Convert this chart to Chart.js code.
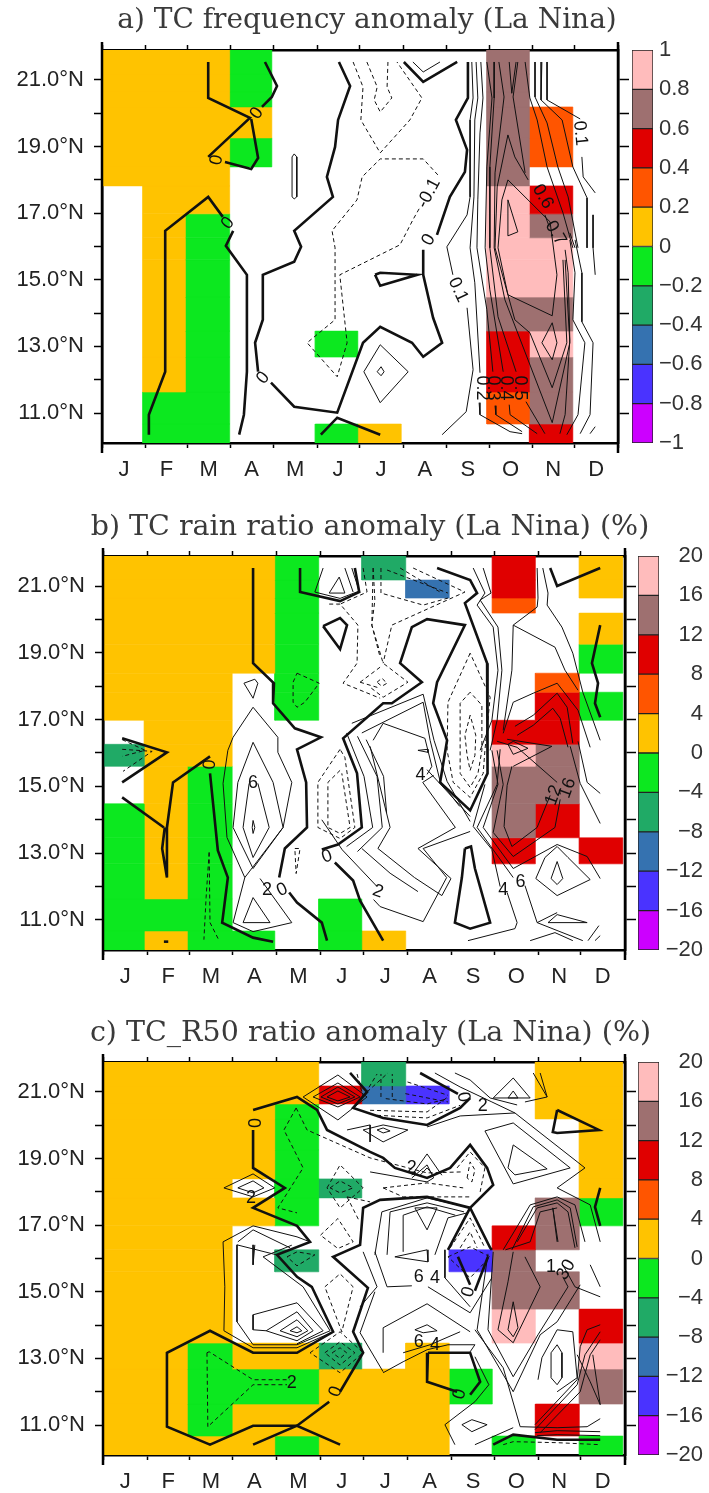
<!DOCTYPE html>
<html>
<head>
<meta charset="utf-8">
<title>TC anomaly</title>
<script src="https://cdn.jsdelivr.net/npm/chart.js@4"></script>
<style>
  html, body { margin: 0; padding: 0; background: #fff; }
  body { position: relative; width: 709px; height: 1493px; overflow: hidden; }
  canvas { position: absolute; }
</style>
</head>
<body>
<canvas id="panelA" width="734" height="490" style="left:0;top:0"></canvas>
<canvas id="panelB" width="740" height="490" style="left:0;top:506px"></canvas>
<canvas id="panelC" width="741" height="490" style="left:0;top:1012px"></canvas>
<canvas id="barA" width="77" height="425" style="left:632px;top:34px"></canvas>
<canvas id="barB" width="65" height="426" style="left:638px;top:540px"></canvas>
<canvas id="barC" width="65" height="425" style="left:638px;top:1046px"></canvas>
<script>
const _ = null;
const monthNames = ['J','F','M','A','M','J','J','A','S','O','N','D'];
const monthTicks = [0,1.02,1.98,2.98,3.98,5,5.98,7,8.02,9,10,10.98,12];
const latTicks = [11,12,13,14,15,16,17,18,19,20,21];
// grid edges of the shaded cells (month units, degrees north)
const cellEdges = [0,0.95,1.94,2.97,3.95,4.96,5.95,6.96,7.96,8.95,9.94,10.95,11.95];
const rowEdges = [10.1,10.67,11.63,12.68,13.46,14.48,15.6,16.26,16.98,17.82,18.39,19.26,20.19,20.64,21.18,21.9];
const bandColors = ['#cc00ff','#4a33ff','#3572b0','#20aa66','#0ce81f','#ffc300','#ff5500','#e00000','#9e7070','#ffbcbc'];
const freqLevels = [-1,-0.8,-0.6,-0.4,-0.2,0,0.2,0.4,0.6,0.8,1];
const ratioLevels = [-20,-16,-12,-8,-4,0,4,8,12,16,20];

// rows run from the top of the plot down to 10N
const freqCells = [
  [.1,.1,.1,-.1,_,_,_,_,_,.7,_,_],
  [.1,.1,.1,-.1,_,_,_,_,_,.7,_,_],
  [.1,.1,.1,-.1,_,_,_,_,_,.7,_,_],
  [.1,.1,.1,.1,_,_,_,_,_,.7,.3,_],
  [.1,.1,.1,-.1,_,_,_,_,_,.7,.3,_],
  [.1,.1,.1,_,_,_,_,_,_,.7,_,_],
  [_,.1,.1,_,_,_,_,_,_,.9,.5,_],
  [_,.1,-.1,_,_,_,_,_,_,.9,.7,_],
  [_,.1,-.1,_,_,_,_,_,_,.9,.9,_],
  [_,.1,-.1,_,_,_,_,_,_,.9,.9,_],
  [_,.1,-.1,_,_,_,_,_,_,.7,.7,_],
  [_,.1,-.1,_,_,-.1,_,_,_,.5,.9,_],
  [_,.1,-.1,_,_,_,_,_,_,.5,.7,_],
  [_,-.1,-.1,_,_,_,_,_,_,.3,.7,_],
  [_,-.1,-.1,_,_,-.1,.1,_,_,_,.5,_]
];
const rainCells = [
  [2,2,2,2,-2,_,-6,_,_,10,_,2],
  [2,2,2,2,-2,_,_,-10,_,10,_,2],
  [2,2,2,2,-2,_,_,_,_,6,_,_],
  [2,2,2,2,-2,_,_,_,_,_,_,2],
  [2,2,2,2,-2,_,_,_,_,_,_,-2],
  [2,2,2,_,-2,_,_,_,_,_,6,_],
  [2,2,2,_,-2,_,_,_,_,_,10,-2],
  [_,2,2,_,_,_,_,_,_,10,10,_],
  [-6,2,2,_,_,_,_,_,_,18,14,_],
  [_,2,-2,_,_,_,_,_,_,14,14,_],
  [-2,2,-2,_,_,_,_,_,_,14,10,_],
  [-2,2,-2,_,_,_,_,_,_,10,_,10],
  [-2,2,-2,_,_,_,_,_,_,_,_,_],
  [-2,-2,-2,_,_,-2,_,_,_,_,_,_],
  [-2,2,-2,-2,_,-2,2,_,_,_,_,_]
];
const r50Cells = [
  [2,2,2,2,2,_,-6,_,_,_,2,2],
  [2,2,2,2,2,10,-10,-14,_,_,2,2],
  [2,2,2,2,-2,_,_,_,_,_,2,2],
  [2,2,2,2,-2,_,_,_,_,_,_,2],
  [2,2,2,2,-2,_,_,_,_,_,_,2],
  [2,2,2,_,-2,-6,_,_,_,_,_,2],
  [2,2,2,2,-2,_,_,_,_,_,14,-2],
  [2,2,2,_,_,_,_,_,_,10,14,_],
  [2,2,2,_,-6,_,_,_,-14,14,_,_],
  [2,2,2,_,_,_,_,_,_,14,14,_],
  [2,2,2,_,_,_,_,_,_,18,_,10],
  [2,2,-2,2,2,-6,_,2,_,_,_,18],
  [2,2,-2,-2,-2,2,2,2,-2,_,_,14],
  [2,2,-2,2,2,2,2,2,_,_,10,_],
  [2,2,2,2,-2,2,2,2,_,-2,_,-2]
];

// contour lines as [month, latitude]
const freqZero = [
  [[2.47,21.54],[2.47,20.46],[3.44,19.86],[2.47,18.69]],
  [[2.86,18.54],[3.47,18.33],[3.63,18.66],[3.47,19.83]],
  [[3.72,20.19],[3.95,20.49],[4.07,20.82],[3.79,21.54]],
  [[1.09,10.35],[1.09,10.95],[1.47,12.24],[1.47,16.47],[2.47,17.49],[2.81,16.89]],
  [[3.05,16.47],[2.88,16.02],[3.37,15.15],[3.37,12.24],[3.30,10.95],[3.19,10.35]],
  [[5.51,21.54],[5.77,20.82],[5.49,19.8],[5.42,18.99],[5.23,18.09],[5.37,17.49],[4.47,16.47],[4.63,15.99],[4.47,15.54],[3.74,15.15],[3.74,13.8],[3.56,13.11],[3.63,12.24]],
  [[3.93,11.91],[4.47,11.19],[5.47,11.01],[6.07,13.11],[6.47,13.59],[7.21,13.11],[7.47,12.69],[7.91,13.11],[7.70,13.86],[7.47,15.15],[7.47,15.9]],
  [[7.79,16.35],[8.09,17.49],[8.44,18.24],[8.49,18.9],[8.23,19.8],[8.51,20.46],[8.51,21.54]],
  [[6.35,15.15],[6.47,14.82],[7.33,15.15],[6.47,15.21],[6.35,15.15]],
  [[5.09,10.35],[5.47,10.86],[6.47,10.35]],
  [[7.02,21.54],[7.47,20.94],[8.26,21.54]]
];
const freqPos = [
  [[4.42,18.69],[4.47,18.78],[4.53,18.69],[4.53,17.49],[4.47,17.43],[4.42,17.49],[4.42,18.69]],
  [[6.09,12.24],[6.47,13.05],[7.12,12.24],[6.47,11.31],[6.09,12.24]],
  [[6.40,12.24],[6.49,12.39],[6.56,12.24],[6.49,12.12],[6.40,12.24]],
  [[7.23,21.54],[7.47,21.24],[7.86,21.54]],
  [[8.60,21.54],[8.63,20.46],[8.56,19.8],[8.56,17.49],[8.49,16.95],[8.02,15.99],[8.16,15.15]],
  [[8.49,14.16],[8.63,12.3],[8.47,11.04],[7.91,10.35]],
  [[8.70,21.54],[8.74,20.46],[8.67,19.8],[8.65,17.49],[8.56,15.96],[8.67,14.91],[8.79,12.21]],
  [[8.77,11.31],[8.79,10.95],[9.49,10.44],[9.77,10.38]],
  [[8.81,21.54],[8.86,20.46],[8.79,19.41],[8.74,17.4],[8.72,15.96],[8.95,14.1],[9.09,12.24]],
  [[9.14,11.22],[9.16,10.95],[9.77,10.44]],
  [[8.95,21.54],[9.07,20.46],[8.95,18.39],[8.91,15.96],[9.02,14.7],[9.33,12.24]],
  [[9.47,11.25],[9.49,10.95],[10.12,10.38]],
  [[9.12,21.54],[9.12,20.46],[9.02,18.39],[9.02,15.96],[9.21,13.89],[9.63,12.24]],
  [[9.86,11.34],[10.30,10.38]],
  [[9.23,21.54],[9.35,20.49],[9.14,18.21],[9.12,15.96],[9.37,14.4],[10.47,10.71],[10.88,13.11],[10.77,15.6]],
  [[9.47,21.54],[9.53,20.6],[9.63,21.54]],
  [[9.44,19.35],[9.19,17.79],[9.14,15.96],[9.60,13.8],[9.95,13.41],[10.47,11.76],[10.81,13.11],[10.72,15.6]],
  [[9.44,19.35],[9.60,18.69],[9.91,18]],
  [[10.30,16.95],[10.4,16.6]],
  [[10.88,16.41],[11,15.96]],
  [[9.44,18],[9.30,17.4],[9.21,15.96],[9.44,14.55],[10.47,13.92],[10.58,15.15],[10.42,16.74],[9.44,18]],
  [[9.44,17.4],[9.67,16.44],[9.44,16.32],[9.44,17.4]],
  [[9.67,21.54],[9.56,20.49],[9.84,18.21]],
  [[9.84,21.54],[9.95,20.46],[10.12,19.8],[10.35,18.39],[10.72,17.01],[10.95,15.96]],
  [[10.07,21.54],[10.07,20.49],[10.35,19.71],[10.60,18.39],[10.84,17.49],[11.07,15.96]],
  [[10.23,21.54],[10.21,20.4],[10.70,19.8],[10.95,18.39],[11.28,17.46],[11.28,15.96]],
  [[10.35,21.54],[10.35,20.4],[11.12,19.83]],
  [[11.16,18.69],[11.19,18.09],[11.47,17.61]],
  [[11.42,16.95],[11.42,15.96],[11.47,15.15]],
  [[11,16.2],[11.16,15.21],[11.16,13.74],[11.42,13.11],[11.35,10.95],[11.12,10.38]],
  [[10.88,16.2],[11,15.21],[10.95,13.8],[11.23,13.11],[11.07,10.95],[10.81,10.35]],
  [[10.77,15.9],[10.84,15.21],[10.88,13.2],[10.77,10.95],[10.65,10.38]],
  [[11.47,10.59],[11.35,10.38]],
  [[10.23,13.11],[10.47,13.71],[10.58,13.11],[10.47,12.6],[10.23,13.11]]
];
const freqNeg = [
  [[5.84,21.54],[6.07,20.79],[6.02,19.8],[6.47,18.81],[7.16,19.8],[7.44,20.46],[6.86,21.54]],
  [[7.81,18.15],[7.47,18.63],[6.47,18.63],[6.05,18.09],[5.93,17.4],[5.35,16.47],[5.42,15.96],[5.42,13.8],[4.77,13.11],[5.47,12.09],[5.70,13.11],[5.53,15.15],[6.93,16.05],[7.23,16.8],[7.40,17.19]],
  [[6.16,21.54],[6.40,20.79],[6.33,20.4],[6.47,20.04],[6.74,20.46],[6.63,20.79],[6.65,21.54]]
];
const freqLabels = [
  {x:3.6,y:20.0,text:'0',rot:-55},{x:2.67,y:18.6,text:'0',rot:-80},{x:2.93,y:16.7,text:'0',rot:-50},
  {x:3.75,y:12.05,text:'0',rot:-50},{x:7.6,y:16.2,text:'0',rot:-60},{x:7.6,y:17.6,text:'-0.1',rot:-62},
  {x:11.12,y:19.4,text:'0.1',rot:85},{x:8.28,y:14.7,text:'0.1',rot:65},{x:10.25,y:17.5,text:'0.6',rot:60},
  {x:10.55,y:16.4,text:'0.7',rot:60},{x:8.83,y:11.75,text:'0.2',rot:90},{x:9.1,y:11.75,text:'0.3',rot:90},
  {x:9.4,y:11.75,text:'0.4',rot:90},{x:9.72,y:11.75,text:'0.5',rot:90}
];

const rainZero = [
  [[3.45,21.54],[3.45,18.69],[3.93,18.09],[3.91,17.49],[4.41,16.74],[5.01,16.47],[4.46,16.11],[4.67,15.12],[4.69,13.77],[4.18,13.14],[4.05,12.27]],
  [[4.28,11.82],[4.46,11.52],[5.03,10.92],[5.15,10.38]],
  [[4.53,21.54],[4.53,20.82],[5.45,20.55],[5.89,20.82],[5.79,21.54]],
  [[5.06,19.8],[5.45,20.04],[5.61,19.83],[5.45,19.11],[5.06,19.8]],
  [[7.68,21.54],[8.44,21.18],[8.60,20.79],[8.32,20.49],[8.83,18.69],[8.83,16.38],[8.85,15.39],[8.44,14.28],[7.75,15.12],[7.91,16.38],[7.59,17.49],[7.68,18.12],[8.32,19.83],[7.45,20.01],[7.10,19.77],[6.83,18.69],[7.33,18.12],[6.64,17.49],[6.44,17.49],[5.52,16.44],[5.84,15.39],[5.95,13.77],[5.40,13.26],[5.03,13.11]],
  [[5.33,12.72],[5.75,12.18],[5.91,11.58],[6.44,10.38]],
  [[8.32,13.14],[8.46,13.2],[8.55,12.54],[8.9,10.92],[8.44,10.74],[8.09,10.92],[8.25,12.27],[8.32,13.14]],
  [[10.28,21.54],[10.44,21],[11.43,21.54]],
  [[11.43,19.83],[11.24,18.69],[11.38,18.09],[11.31,17.49],[11.43,17.07]],
  [[0.44,16.44],[1.47,16.02],[0.44,15.12]],
  [[0.44,14.67],[1.40,13.77]],
  [[2.46,15.9],[1.61,15.12],[1.47,13.77],[1.47,12.27],[1.36,13.14],[1.42,13.77]],
  [[2.46,15.39],[2.64,13.08],[2.87,12.27],[2.74,10.92],[3.45,10.47],[3.91,10.35]],
  [[1.4,10.35],[1.5,10.35]]
];
const rainPos = [
  [[2.87,16.08],[2.76,15.09],[2.85,13.47],[3.26,12.27],[4.14,13.77],[4.34,15.12],[4.02,16.02],[4.02,16.47],[3.45,17.37],[2.99,16.47],[2.87,16.08]],
  [[3.45,16.32],[3.10,15.12],[2.99,13.77],[3.45,12.54],[4.14,13.77],[3.91,15.12],[3.45,16.32]],
  [[3.36,15.09],[3.22,13.77],[3.45,12.87],[3.82,13.77],[3.56,15.09]],
  [[3.43,13.77],[3.45,13.98],[3.49,13.77],[3.45,13.59],[3.43,13.77]],
  [[3.45,11.67],[3.22,10.92],[3.84,10.92],[3.45,11.67]],
  [[3.26,12.27],[2.99,10.92],[3.45,10.65],[4.34,10.92],[3.61,12.24]],
  [[3.24,18.09],[3.49,18.21],[3.56,18.09],[3.45,17.64],[3.24,18.09]],
  [[4.87,20.82],[5.06,21.54]],
  [[5.56,21.54],[5.75,20.82]],
  [[4.87,20.82],[5.45,20.63],[5.89,20.85],[5.72,21.54]],
  [[5.2,20.79],[5.43,21.27],[5.56,20.79],[5.2,20.79]],
  [[8.51,21.54],[8.78,20.79],[8.60,20.43],[8.97,19.77],[9.08,18.48],[8.94,16.98],[8.67,16.08]],
  [[8.74,21.54],[8.92,20.79],[8.67,20.58],[9.08,19.77],[9.17,18.48],[9.06,16.98],[8.90,16.08]],
  [[9.98,21.54],[10,20.64],[9.98,20.37],[9.43,19.83],[9.40,18.48],[9.2,16.68]],
  [[9.43,19.83],[10.39,19.17],[10.62,18.48],[10.92,17.88]],
  [[10.11,21.54],[10.23,20.79],[10.21,20.43],[10.55,19.77],[10.8,18.99],[11.03,17.82],[11.43,16.38]],
  [[9.20,16.59],[9.43,17.52],[9.89,17.79],[10.44,18.09],[10.92,17.28],[11.2,16.17]],
  [[9.47,16.8],[9.89,17.13],[10.44,17.79],[10.67,17.37],[10.8,16.29]],
  [[9.52,16.53],[9.89,16.83],[10.34,17.34],[10.51,17.04],[10.69,16.17]],
  [[9.06,16.35],[9.52,16.17],[10.44,15.12]],
  [[9.4,15.6],[9.29,15.03],[9.22,13.8],[9.40,13.2],[9.98,13.77],[10.28,14.73]],
  [[9.06,16.08],[9.20,15.06],[8.97,13.62],[9.43,12.9],[10.39,13.77],[10.51,14.61]],
  [[8.94,16.08],[9.08,15.06],[8.74,13.77],[9.43,12.54],[10.44,13.26],[11.13,12.9],[11.43,12.24]],
  [[8.78,15.06],[8.51,13.8],[8.94,13.11],[9.13,12.0]],
  [[9.13,16.11],[9.06,15.06],[8.60,13.77],[9.43,12.27]],
  [[9.29,11.82],[9.52,10.92],[9.47,10.74],[8.39,10.38]],
  [[9.70,12.03],[9.98,10.92],[11.03,10.38]],
  [[9.82,10.38],[10.39,10.62],[10.80,10.38]],
  [[10.23,10.92],[10.44,11.16],[11.13,10.92],[10.23,10.92]],
  [[9.98,10.92],[10.44,11.22]],
  [[9.95,12.24],[10.16,12.87],[10.44,13.2],[10.69,12.87],[11.20,12.21],[10.44,11.73],[9.95,12.24]],
  [[10.30,12.24],[10.44,12.75],[10.57,12.24],[10.44,12.06],[10.30,12.24]],
  [[11.15,10.38],[11.40,10.83]],[[11.31,10.38],[11.43,10.53]],
  [[10.92,16.35],[11.13,15.12],[11.43,14.79]],
  [[10.74,16.2],[10.97,15.09],[11.43,13.89]],
  [[9.31,16.26],[9.43,16.35],[9.77,16.14],[9.43,15.96],[9.31,16.26]],
  [[9.43,15.6],[10.32,16.2],[9.29,16.41]],
  [[7.24,16.08],[7.47,16.11],[7.47,16.02],[7.24,16.08]],
  [[6.14,16.2],[6.60,13.77],[6.32,13.14],[7.16,12.27],[7.79,11.73],[8.0,12.24],[7.24,13.14],[8.1,13.77],[7.35,15.12],[7.6,15.33]],
  [[5.95,13.14],[6.60,12.4],[7.24,11.85]],
  [[7.45,15.5],[8.44,14.1]],
  [[8.44,13.65],[7.36,13.14],[7.90,12.27],[7.36,10.95],[6.37,11.4],[6.22,11.61]],
  [[5.03,14],[5.5,13.1],[6.3,12]],
  [[5.72,16.89],[7.36,17.76],[7.61,16.38],[7.91,15.15],[8.44,13.95]],
  [[5.95,16.6],[7.36,17.52],[7.52,16.38],[7.75,15.15],[8.20,14.4]],
  [[6.21,16.38],[6.44,16.89],[7.40,16.44],[7.56,15.6],[7.45,15.36]],
  [[5.6,16.6],[6.0,15.3],[6.2,13.77],[5.6,13.2]],
  [[5.85,16.5],[6.3,15.3],[6.42,13.77],[5.85,13.05]],
  [[6.05,16.4],[6.45,15.3],[6.52,14.2]]
];
const rainNeg = [
  [[5.2,20.46],[5.45,20.46],[5.86,19.83],[5.84,18.69],[5.52,18.09],[6.37,17.64]],
  [[6.21,21.54],[6.18,19.83],[6.44,18.69],[7.01,18.12],[6.44,17.67],[6.14,17.97]],
  [[6.39,21.54],[6.39,20.79],[7.36,20.43],[7.93,20.64]],
  [[6.53,21.48],[7.93,20.79]],[[6.83,21.54],[7.75,20.82]],
  [[7.13,21.54],[8.32,20.82],[6.64,19.83],[6.44,18.69]],
  [[5.98,21.54],[6.07,20.82],[5.40,20.43]],
  [[6.21,21.54],[6.25,20.58],[6.18,19.83],[6.37,18.87]],
  [[6.30,18.12],[6.41,18.24],[6.53,18.09],[6.41,18],[6.30,18.12]],
  [[5.91,18.12],[6.37,18.57]],[[5.91,18.12],[6.37,17.94]],
  [[8.44,18.99],[7.93,17.52],[7.91,16.08],[8.05,15.12],[8.44,14.67],[8.74,15.39],[8.78,16.08],[8.90,17.67],[8.44,18.99]],
  [[8.44,17.82],[8.21,17.49],[8.21,16.08],[8.21,15.39],[8.44,14.97],[8.62,15.39],[8.71,16.08],[8.71,17.43],[8.44,17.82]],
  [[8.44,17.13],[8.32,16.53],[8.37,15.93],[8.44,15.48],[8.55,15.93],[8.57,16.53],[8.44,17.13]],
  [[5.45,16.11],[4.94,15.12],[4.94,13.77],[5.45,13.44],[5.79,13.77],[5.56,15.87],[5.45,16.11]],
  [[5.45,15.48],[5.17,15.12],[5.17,13.77],[5.45,13.59],[5.68,13.77],[5.49,15.39]],
  [[4.41,13.14],[4.53,13.14],[4.44,12.39],[4.41,13.14]],
  [[4.46,18.39],[4.97,18.09],[4.64,17.52],[4.46,17.37],[4.37,17.52],[4.37,18.12],[4.46,18.39]],
  [[2.44,13.02],[2.37,11.67],[2.32,10.41]],
  [[2.44,13.02],[2.46,10.92],[2.67,10.38]],
  [[0.44,16.11],[1.13,16.05],[0.46,15.45]],
  [[0.44,16.4],[0.97,16.08],[0.44,15.9]]
];
const rainLabels = [
  {x:3.45,y:15.1,text:'6',rot:0},{x:3.77,y:11.9,text:'2',rot:0},{x:4.12,y:11.9,text:'0',rot:-25},
  {x:5.15,y:12.9,text:'0',rot:-20},{x:2.46,y:15.65,text:'0',rot:-85},{x:6.32,y:11.85,text:'2',rot:20},
  {x:7.3,y:15.33,text:'4',rot:0},{x:9.2,y:11.9,text:'4',rot:0},{x:9.6,y:12.15,text:'6',rot:0},
  {x:10.36,y:14.73,text:'12',rot:-70},{x:10.68,y:14.95,text:'16',rot:-70}
];

const r50Zero = [
  [[3.45,20.46],[4.46,20.85],[4.92,20.46],[5.15,19.86],[6.14,19.2],[6.44,19.02],[6.71,18.72],[7.45,18.42],[7.98,18.72],[8.44,19.41],[8.83,18.72],[8.97,18.21],[8.44,17.52],[7.93,16.26]],
  [[8.44,17.52],[8.9,16.32],[8.94,16.26]],
  [[8.16,16.05],[8.44,15.21]],[[8.55,15.03],[8.85,16.05]],
  [[3.45,19.86],[3.45,18.72],[4.18,18.12],[3.45,17.52],[4.46,16.98],[4.76,16.5],[4,16.11],[4.46,15.45],[4.80,15.15],[5.29,13.8],[4.46,13.17],[3.45,13.17],[2.46,13.83],[1.47,13.17],[1.47,10.95],[2.46,10.41],[3.45,10.98],[4.46,10.98],[5.45,10.41]],
  [[3.45,10.41],[4.46,10.98],[5.2,11.7]],
  [[5.45,12],[5.98,13.17],[5.75,13.8],[6.09,15.12],[5.29,16.05],[5.91,16.41],[5.98,17.52],[6.37,17.76],[7.45,17.85],[8.44,17.52]],
  [[5.68,21.57],[6.07,21],[5.75,20.52],[6.44,20.22],[7.45,20.01],[8.21,20.52],[8.44,20.82]],
  [[8.16,20.94],[7.29,21.57]],
  [[10.44,20.46],[10.34,19.8],[10.44,19.77],[11.4,19.86],[10.44,20.46]],
  [[11.43,18.12],[11.31,17.55],[11.43,16.98]],
  [[7.47,13.17],[7.45,12.3],[8.14,12]],
  [[7.47,13.17],[8.44,13.17],[8.67,12.3],[8.44,11.91]],
  [[8.97,10.41],[9.43,10.71],[10.44,10.56],[11.43,10.56]]
];
const r50Pos = [
  [[4.60,20.85],[5.40,21.51],[6.07,20.85],[5.40,20.16],[4.60,20.85]],
  [[4.83,20.85],[5.40,21.27],[5.91,20.85],[5.40,20.55],[4.83,20.85]],
  [[5.01,20.85],[5.40,21.15],[5.79,20.85],[5.40,20.64],[5.01,20.85]],
  [[5.15,20.85],[5.40,21.03],[5.68,20.85],[5.40,20.73],[5.15,20.85]],
  [[5.61,19.86],[6.14,20.01],[6.14,19.5]],
  [[5.98,19.86],[6.44,20.01],[7.01,19.86],[6.44,19.5],[5.98,19.86]],
  [[6.30,19.86],[6.44,19.92],[6.60,19.83],[6.44,19.77],[6.30,19.86]],
  [[2.78,18.12],[3.45,18.54],[3.95,18.12],[3.45,17.85],[2.78,18.12]],
  [[3.10,18.12],[3.45,18.33],[3.70,18.12],[3.45,17.97],[3.10,18.12]],
  [[7.63,21.57],[8.21,21.15],[8.94,20.7],[9.47,20.37]],
  [[8.09,21.57],[8.44,21.36],[8.9,20.82],[9.52,20.61]],
  [[9.70,20.7],[10.21,20.85],[9.89,21.57]],
  [[10.05,21.57],[10.21,20.85]],
  [[8.97,20.82],[9.43,21.42],[9.82,20.82],[8.97,20.82]],
  [[9.31,20.82],[9.43,21.03],[9.54,20.82],[9.31,20.82]],
  [[7.45,19.95],[8.21,20.28],[9.47,20.37],[11.08,18.72],[10.44,18.12],[11.2,17.61],[11.43,16.5]],
  [[8.78,19.83],[9.43,20.07],[10.74,18.72],[9.43,18.24],[8.78,19.83]],
  [[9.43,19.41],[10.21,18.69],[9.47,18.51],[9.31,18.72],[9.43,19.41]],
  [[6.14,18.6],[7.45,18.3],[7.6,18.42],[7.45,18.81],[7.1,18.42]],
  [[7.1,18.5],[7.45,19.14],[7.79,18.5]],
  [[7.29,18.5],[7.45,18.72],[7.6,18.5]],
  [[10.44,16.5],[10.34,17.52],[10.46,16.5]],
  [[9.2,16.26],[9.82,17.61],[10.44,17.85],[10.85,17.61],[11.08,16.5]],
  [[9.4,16.26],[9.89,17.55],[10.44,17.76],[10.74,17.52],[10.9,16.35]],
  [[9.52,16.5],[9.98,17.52],[10.44,17.67],[10.69,17.4],[10.85,16.32]],
  [[9.25,16.26],[9.47,16.35],[9.82,16.5],[10.05,17.4],[10.44,17.52]],
  [[9.43,14.7],[9.31,13.86],[9.43,13.65],[9.54,13.92],[9.43,14.7]],
  [[9.7,16.05],[10.05,15.15],[9.54,13.77],[9.43,13.47],[9.08,13.86],[9.31,15.3],[9.43,16.2]],
  [[8.97,16.2],[8.85,13.86],[9.43,12.45],[10,13.71],[10.69,15.15],[10.57,15.45]],
  [[8.85,16.14],[8.6,13.86],[9.43,12],[10.05,13.71],[10.44,14.1],[10.97,15.21]],
  [[8.55,13.86],[9.2,12.72],[9.59,10.95]],
  [[10,12.36],[10.09,13.02],[10.44,13.86],[10.8,13.8],[10.9,12.42],[10.44,12]],
  [[10.3,12.42],[10.3,13.17],[10.44,13.41],[10.55,13.17],[10.55,12.42],[10.44,12.21],[10.3,12.42]],
  [[9.93,11.01],[10.9,12.36],[10.97,13.35],[11.13,13.86],[11.43,14.01]],
  [[9.93,10.86],[10.9,12.21],[11.08,13.11],[11.43,13.8]],
  [[10.05,10.77],[10.97,12],[11.2,13.11],[11.43,13.56]],
  [[11.26,13.11],[11.43,11.61]],
  [[10.9,13.11],[11.2,12.3],[11.43,11.61]],
  [[9.59,10.95],[10.44,10.92],[11.13,10.95],[11.43,11.19]],
  [[9.93,10.77],[10.44,10.83],[11.43,10.8]],
  [[9.98,10.68],[10.44,10.71],[11.43,10.68]],
  [[10.57,15.81],[10.85,15.15],[11.43,14.85]],[[11.2,15.81],[11.43,15.15]],
  [[6.71,16.05],[7.45,16.26],[7.47,15.9],[6.71,16.05]],
  [[5.98,16.2],[6.3,15.15],[5.91,14.55]],
  [[6.25,16.2],[6.53,15.15],[7.1,15.18]],
  [[6.44,13.17],[6.44,13.92],[7.45,14.64],[8.44,13.8]],
  [[6.9,13.17],[7.52,13.41],[8.21,13.8]],
  [[6.44,12.57],[6.9,12.9],[7.45,13.26],[7.93,13.41]],
  [[6.44,12.6],[5.91,13.77],[6.25,15]],
  [[7.17,13.86],[7.45,14.01],[7.68,13.83],[7.36,13.77],[7.17,13.86]],
  [[8.44,13.2],[8.55,13.41],[7.93,13.41]],
  [[7.47,15.15],[8.44,14.37],[8.94,15.42]],
  [[7.86,16.26],[7.86,15.42],[8.44,14.55]],
  [[7.86,11.01],[8.09,10.41]],[[7.86,11.01],[8.55,11.7],[8.87,12.21],[8.55,13.05]],
  [[8.25,11.01],[8.48,11.16],[8.83,11.01],[8.48,10.8],[8.25,11.01]],
  [[8.55,10.41],[9.43,10.92]],
  [[4.02,16.1],[3.08,16.41],[3.08,14.1],[3.45,13.41],[4.46,13.41],[5.22,13.83],[4.6,15.15],[3.68,16.05],[4.34,16.4]],
  [[3.1,16.5],[3.45,16.86],[4.3,16.32]],
  [[2.76,16.5],[2.8,15.15],[2.78,13.83],[3.45,13.32],[4.46,13.32],[5.29,13.8]],
  [[2.76,16.5],[3.45,16.98],[4.46,16.65],[4.76,16.5]],
  [[3.45,14.31],[4.46,14.67],[5.06,13.83],[4.46,13.44]],
  [[3.45,14.31],[3.45,13.86],[3.75,13.83],[4.46,14.4],[4.83,13.83],[4.46,13.53],[3.75,13.83]],
  [[4.07,13.83],[4.46,14.16],[4.71,13.83],[4.46,13.65],[4.07,13.83]],
  [[4.3,13.83],[4.46,13.95],[4.57,13.83],[4.46,13.77],[4.3,13.83]],
  [[3.45,16.41],[3.45,15.81],[3.49,16.41]],
  [[6.25,16.11],[6.41,17.4],[7.45,17.82],[8.44,17.52]],
  [[6.53,16.11],[6.6,17.4],[7.45,17.67],[8.3,17.4]],
  [[6.9,16.2],[6.9,17.3],[7.45,17.55],[8.1,17.3]],
  [[7.17,17.52],[7.45,16.86],[7.68,17.52],[7.17,17.52]],
  [[7.63,16.11],[7.93,17.22],[8.37,17.37]]
];
const r50Neg = [
  [[4.44,20.52],[4.16,19.86],[4.60,18.72],[4.02,17.52],[4.46,17.37]],
  [[4.44,20.52],[4.69,19.86],[6.14,19.02],[7.45,18.57],[8.25,18.6]],
  [[5.15,18.12],[5.45,18.81],[5.98,18.12],[5.45,17.52],[5.15,18.12]],
  [[5.22,18.12],[5.45,18.33],[5.75,18.12],[5.45,17.97],[5.22,18.12]],
  [[6.44,18.12],[7.45,18.27],[8.28,18.12]],
  [[6.44,18.12],[6.9,17.85],[8.44,17.85]],
  [[8.37,18.42],[8.44,18.9],[8.55,18.66],[8.48,18.3],[8.37,18.42]],
  [[8.14,18.72],[8.44,19.2],[8.78,18.72],[8.67,18]],
  [[7.98,16.32],[8.44,17.22],[8.78,16.32]],
  [[8.21,16.32],[8.44,16.8],[8.6,16.32]],
  [[7.93,16.05],[8.44,16.35],[8.9,16.05],[8.44,15.42],[7.93,16.05]],
  [[5.84,21.54],[5.98,20.85],[6.3,21.54]],
  [[6.07,21],[6.55,21.57]],[[6.39,20.85],[6.39,21.54]],[[6.65,20.85],[6.65,21.54]],
  [[7.0,21.3],[7.93,20.9]],[[6.95,20.95],[7.93,20.7]],[[6.3,20.3],[7.45,20.22],[8.21,20.6]],
  [[6.14,20.45],[7.45,20.4],[7.93,20.85]],[[6.5,20.8],[7.45,20.64],[7.93,20.8]],
  [[5.61,17.85],[6.14,17.7]],[[5.61,17.85],[5.9,17.1]],
  [[5.0,16.7],[5.4,17.2],[5.75,16.5],[5.4,16.3],[5.0,16.7]],
  [[4.23,16.05],[4.46,16.2],[4.87,16.11],[4.46,15.78],[4.23,16.05]],
  [[2.39,13.17],[2.44,13.2],[3.45,12.36],[4.3,12.36]],
  [[2.39,13.17],[2.41,10.95],[3.45,12.21],[4.23,12.21]],
  [[5.10,15.15],[5.45,15.54],[5.75,15.15],[5.49,13.8],[5.10,15.15]],
  [[4.76,13.17],[5.45,13.8],[5.98,13.17],[5.45,12.57],[4.76,13.17]],
  [[5.1,13.17],[5.45,13.5],[5.79,13.17],[5.45,12.8],[5.1,13.17]],
  [[5.27,13.17],[5.45,13.32],[5.6,13.17],[5.45,13.0],[5.27,13.17]],
  [[9.2,10.41],[9.43,10.5],[10.44,10.47],[11.43,10.41]]
];
const r50Labels = [
  {x:3.45,y:20.07,text:'0',rot:90},{x:3.4,y:17.82,text:'2',rot:0},{x:4.34,y:12.27,text:'2',rot:0},
  {x:5.35,y:12.0,text:'0',rot:-70},{x:8.28,y:20.85,text:'0',rot:80},{x:7.1,y:18.72,text:'2',rot:0},
  {x:8.73,y:20.58,text:'2',rot:0},{x:7.26,y:15.45,text:'6',rot:0},{x:7.63,y:15.42,text:'4',rot:0},
  {x:7.26,y:13.5,text:'6',rot:0},{x:7.63,y:13.41,text:'4',rot:0},{x:8.4,y:15.0,text:'0',rot:-75},
  {x:8.2,y:11.93,text:'0',rot:-75},{x:10.3,y:15.75,text:'1',rot:0},{x:10.65,y:15.66,text:'30',rot:-60}
];

const panelTitles = ['a) TC frequency anomaly (La Nina)','b) TC rain ratio anomaly (La Nina) (%)','c) TC_R50 ratio anomaly (La Nina) (%)'];
const axisFont = '"Liberation Sans", Arial, sans-serif';

function bandColor(v, levels) {
  for (let i = 0; i < bandColors.length; i++) {
    if (v < levels[i + 1]) return bandColors[i];
  }
  return bandColors[bandColors.length - 1];
}

function cellDatasets(cells, levels) {
  const sets = [];
  cells.forEach(function(row, i) {
    const r = 14 - i;
    let c = 0;
    while (c < 12) {
      if (row[c] === null) { c++; continue; }
      const col = bandColor(row[c], levels);
      let end = c + 1;
      while (end < 12 && row[end] !== null && bandColor(row[end], levels) === col) end++;
      sets.push({
        data: [
          {x: cellEdges[c], y: rowEdges[r]},
          {x: cellEdges[end], y: rowEdges[r]},
          {x: cellEdges[end], y: rowEdges[r + 1]},
          {x: cellEdges[c], y: rowEdges[r + 1]},
          {x: cellEdges[c], y: rowEdges[r]}
        ],
        showLine: true, fill: 'shape', backgroundColor: col, borderColor: col, borderWidth: 0.6,
        pointRadius: 0, order: 10
      });
      c = end;
    }
  });
  return sets;
}

function lineDatasets(lines, width, dash) {
  return lines.map(function(pts) {
    return {
      data: pts.map(function(p) { return {x: p[0], y: p[1]}; }),
      showLine: true, fill: false, borderColor: '#111', borderWidth: width, borderDash: dash,
      pointRadius: 0, tension: 0, order: 1
    };
  });
}

// contour labels and the long ends of the frame
const decorPlugin = {
  id: 'decor',
  afterDatasetsDraw(chart, args, opts) {
    const ctx = chart.ctx, sx = chart.scales.x, sy = chart.scales.y;
    ctx.save();
    ctx.fillStyle = '#111';
    ctx.font = '18px ' + axisFont;
    ctx.textAlign = 'center';
    ctx.textBaseline = 'middle';
    opts.labels.forEach(function(l) {
      ctx.save();
      ctx.translate(sx.getPixelForValue(l.x), sy.getPixelForValue(l.y));
      ctx.rotate(l.rot * Math.PI / 180);
      ctx.fillText(l.text, 0, 0);
      ctx.restore();
    });
    ctx.restore();
  },
  afterDraw(chart) {
    const ctx = chart.ctx, a = chart.chartArea;
    ctx.save();
    ctx.strokeStyle = '#000';
    ctx.lineWidth = 2.5;
    [a.left, a.right].forEach(function(x) {
      ctx.beginPath();
      ctx.moveTo(x, a.top - 8);
      ctx.lineTo(x, a.bottom + 10);
      ctx.stroke();
    });
    ctx.restore();
  }
};

function makePanel(id, title, cells, levels, zero, pos, neg, labels, frame) {
  const mids = monthTicks.slice(0, 12).map(function(t, i) { return (t + monthTicks[i + 1]) / 2; });
  const allTicks = monthTicks.concat(mids).sort(function(a, b) { return a - b; });
  const setTicks = function(s) { s.ticks = allTicks.map(function(v) { return {value: v}; }); };
  const setLat = function(s) { s.ticks = latTicks.map(function(v) { return {value: v}; }); };
  const isMid = function(v) { return mids.indexOf(v) >= 0; };
  const xTickColor = function(c) { return c.tick && isMid(c.tick.value) ? 'rgba(0,0,0,0)' : '#000'; };
  const border = {display: true, color: '#000', width: 2.5};
  const canvas = document.getElementById(id);
  new Chart(canvas, {
    type: 'scatter',
    data: {datasets: lineDatasets(zero, 2.6, []).concat(lineDatasets(pos, 1, []), lineDatasets(neg, 1, [4, 3]), cellDatasets(cells, levels))},
    plugins: [decorPlugin],
    options: {
      responsive: false,
      animation: false,
      layout: {padding: 0},
      plugins: {
        legend: {display: false},
        tooltip: {enabled: false},
        title: {display: true, text: title, color: '#3a3a3a', padding: {top: 4, bottom: 0},
          font: {family: '"DejaVu Serif", serif', size: frame.titleSize, weight: 'normal', lineHeight: 1.2}},
        decor: {labels: labels}
      },
      scales: {
        x: {
          type: 'linear', min: 0, max: 12, position: 'bottom',
          afterBuildTicks: setTicks,
          afterFit: function(s) { s.height = frame.bottomH; },
          border: border,
          grid: {drawOnChartArea: false, tickLength: 5, tickWidth: 1.5, tickColor: xTickColor},
          ticks: {
            autoSkip: false, maxRotation: 0, padding: 9, color: '#222', font: {family: axisFont, size: 22},
            callback: function(v) { const i = mids.indexOf(v); return i >= 0 ? monthNames[i] : ''; }
          }
        },
        x2: {
          type: 'linear', axis: 'x', min: 0, max: 12, position: 'top',
          afterBuildTicks: setTicks,
          afterFit: function(s) { s.height = 50 - (frame.titleSize * 1.2 + 4); },
          border: border,
          grid: {drawOnChartArea: false, tickLength: 5, tickWidth: 1.5, tickColor: xTickColor},
          ticks: {display: false}
        },
        y: {
          type: 'linear', min: 10.1, max: 21.9, position: 'left',
          afterBuildTicks: setLat,
          afterFit: function(s) { s.width = frame.left; },
          border: border,
          grid: {drawOnChartArea: false, tickLength: 8, tickWidth: 1.5, tickColor: '#000'},
          ticks: {
            autoSkip: false, padding: 10, color: '#222', font: {family: axisFont, size: 22},
            callback: function(v) { return v % 2 === 1 ? v + '.0\u00b0N' : ''; }
          }
        },
        y2: {
          type: 'linear', axis: 'y', min: 10.1, max: 21.9, position: 'right',
          afterBuildTicks: setLat,
          afterFit: function(s) { s.width = canvas.width - frame.right; },
          border: border,
          grid: {drawOnChartArea: false, tickLength: 11, tickWidth: 1.5, tickColor: '#000'},
          ticks: {display: false}
        }
      }
    }
  });
}

function makeBar(id, levels, labelText, crossAlign, padding, axisWidth) {
  const bands = bandColors.map(function(col, i) {
    return {data: [[levels[i], levels[i + 1]]], backgroundColor: col, borderColor: '#222', borderWidth: 1,
      barPercentage: 1, categoryPercentage: 1, borderSkipped: false, grouped: false};
  });
  new Chart(document.getElementById(id), {
    type: 'bar',
    data: {labels: ['bar'], datasets: bands},
    options: {
      responsive: false,
      animation: false,
      layout: {padding: {top: 16, bottom: 16, left: 0, right: 0}},
      plugins: {legend: {display: false}, tooltip: {enabled: false}},
      scales: {
        x: {display: false},
        y: {
          position: 'right', min: levels[0], max: levels[10],
          afterBuildTicks: function(s) { s.ticks = levels.map(function(v) { return {value: v}; }); },
          afterFit: function(s) { s.width = axisWidth; s.paddingTop = 0; s.paddingBottom = 0; },
          border: {display: false},
          grid: {display: false, drawTicks: false},
          ticks: {
            autoSkip: false, padding: padding, crossAlign: crossAlign, color: '#333',
            font: {family: axisFont, size: 22},
            callback: function(v, i) { return labelText[i]; }
          }
        }
      }
    }
  });
}

makePanel('panelA', panelTitles[0], freqCells, freqLevels, freqZero, freqPos, freqNeg, freqLabels,
  {left: 102, right: 618, bottomH: 47, titleSize: 28});
makePanel('panelB', panelTitles[1], rainCells, ratioLevels, rainZero, rainPos, rainNeg, rainLabels,
  {left: 103, right: 625, bottomH: 46, titleSize: 28.5});
makePanel('panelC', panelTitles[2], r50Cells, ratioLevels, r50Zero, r50Pos, r50Neg, r50Labels,
  {left: 103, right: 625, bottomH: 47, titleSize: 28.5});

const freqBarLabels = ['\u22121','\u22120.8','\u22120.6','\u22120.4','\u22120.2','0','0.2','0.4','0.6','0.8','1'];
const ratioBarLabels = ['\u221220','\u221216','\u221212','\u22128','\u22124','0','4','8','12','16','20'];
makeBar('barA', freqLevels, freqBarLabels, 'near', 6, 56);
makeBar('barB', ratioLevels, ratioBarLabels, 'far', 1, 44);
makeBar('barC', ratioLevels, ratioBarLabels, 'far', 1, 44);
</script>
</body>
</html>
